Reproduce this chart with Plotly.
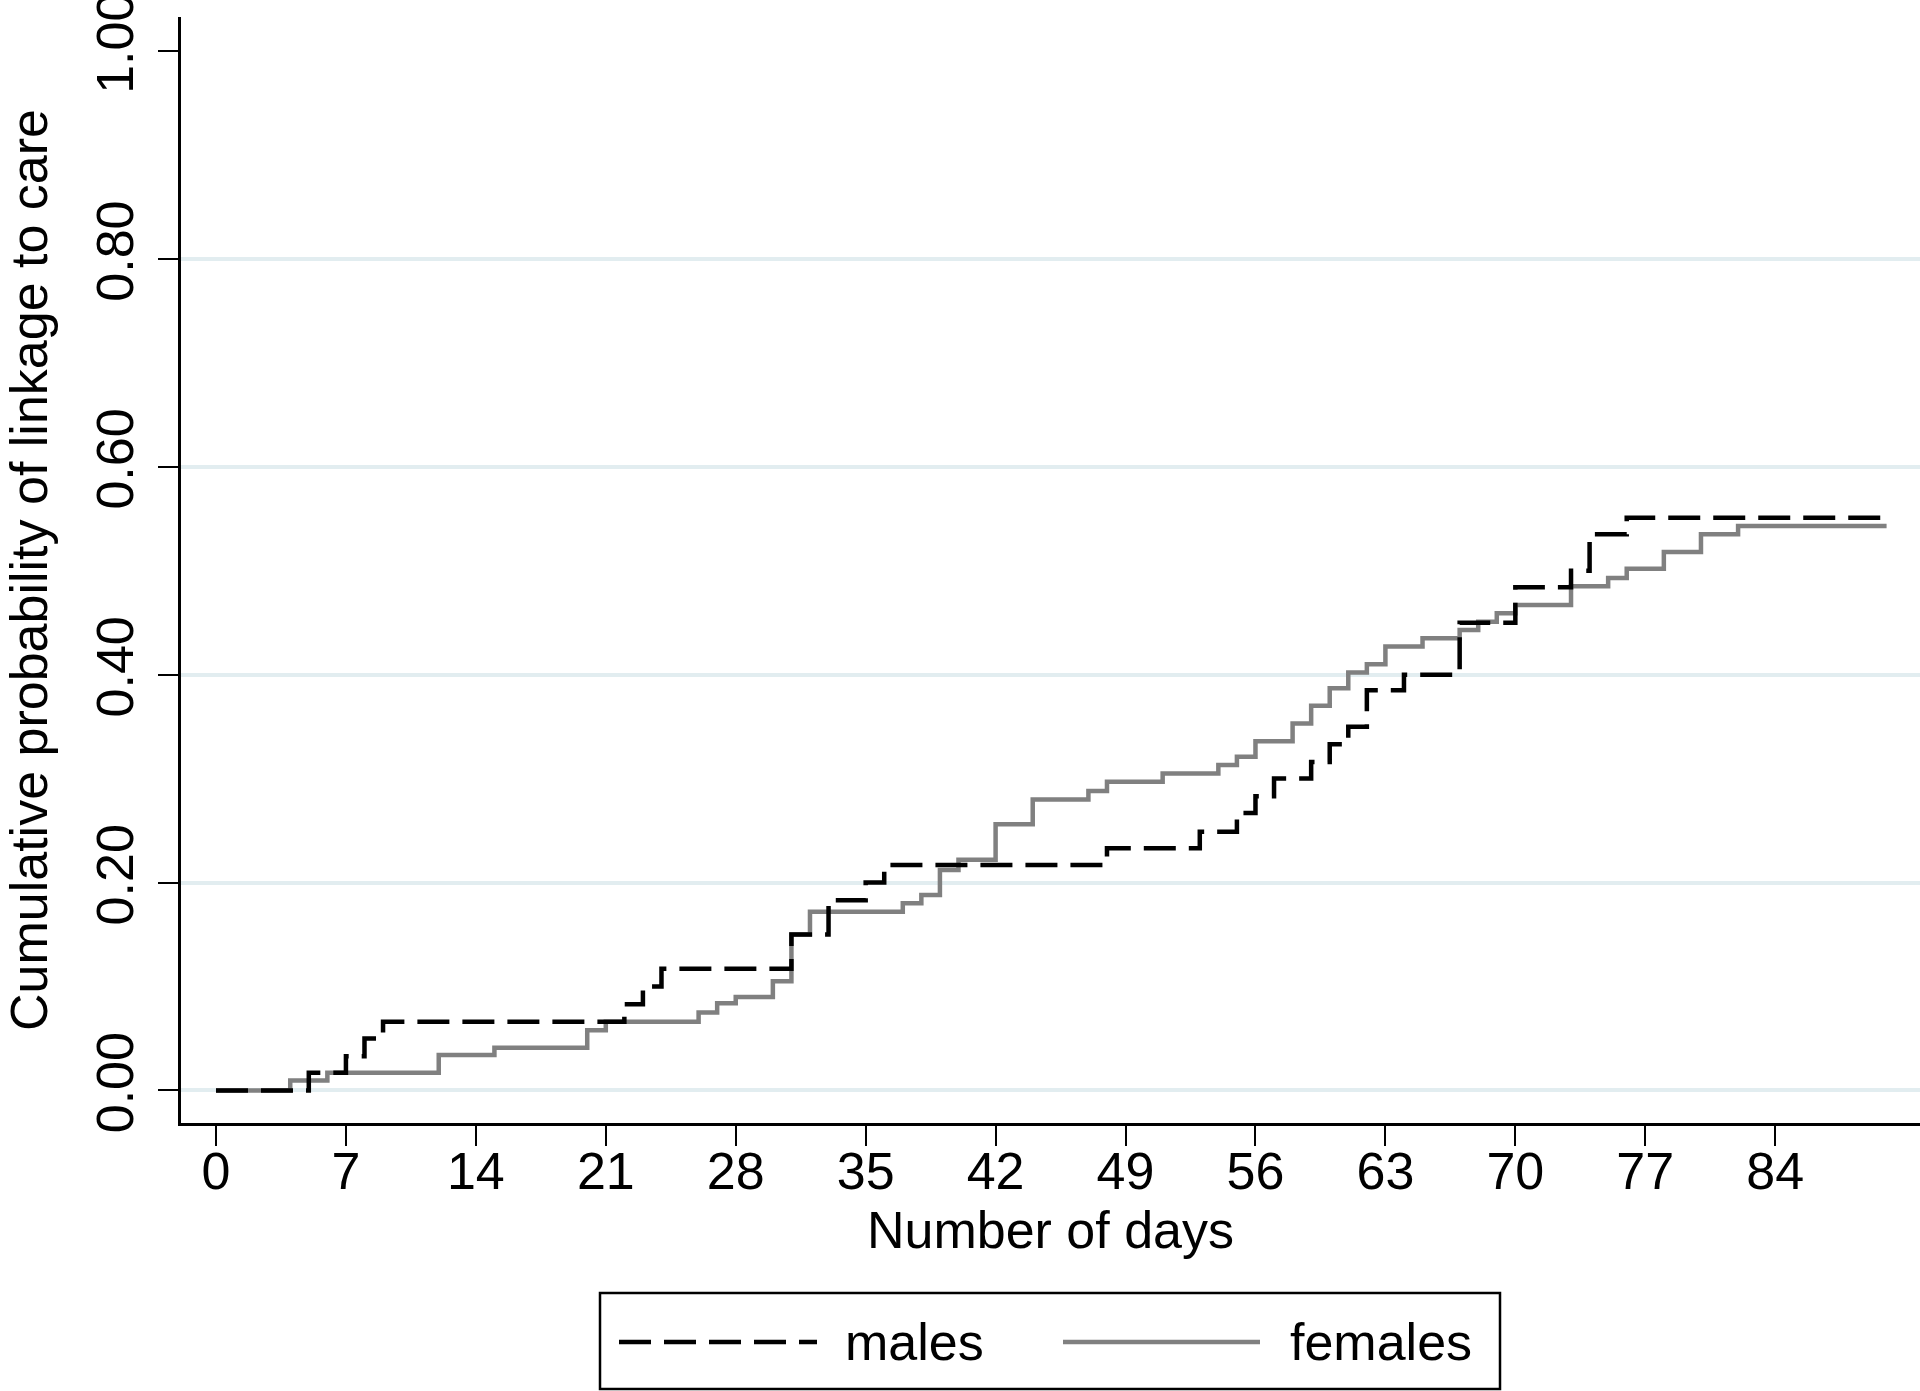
import plotly.graph_objects as go

# ---- data ----
male_days = [0, 5, 7, 8, 9, 22, 23, 24, 31, 33, 35, 36, 48, 53, 55, 56, 57, 59, 60, 61, 62, 64,
             67, 70, 73, 74, 76, 90]
male_prob = [0, 0.017, 0.033, 0.05, 0.066, 0.083, 0.1, 0.117, 0.15, 0.183, 0.2, 0.217, 0.233, 0.249,
             0.267, 0.283, 0.3, 0.316, 0.333, 0.35, 0.385, 0.4, 0.45, 0.484, 0.5, 0.535, 0.551, 0.551]

female_days = [0, 4, 6, 12, 15, 20, 21, 26, 27, 28, 30, 31, 32, 37, 38, 39, 40, 42, 44, 47, 48,
               51, 54, 55, 56, 58, 59, 60, 61, 62, 63, 65, 67, 68, 69, 70, 73, 75, 76, 78, 80, 82, 90]
female_prob = [0, 0.0096, 0.017, 0.034, 0.041, 0.058, 0.066, 0.075, 0.084, 0.09, 0.105, 0.15, 0.172,
               0.18, 0.188, 0.212, 0.222, 0.256, 0.28, 0.288, 0.297, 0.305, 0.313, 0.321, 0.336,
               0.353, 0.37, 0.387, 0.402, 0.41, 0.427, 0.435, 0.443, 0.451, 0.459, 0.467, 0.485,
               0.493, 0.502, 0.518, 0.535, 0.543, 0.543]

x_ticks = [0, 7, 14, 21, 28, 35, 42, 49, 56, 63, 70, 77, 84]
y_ticks = [0, 0.2, 0.4, 0.6, 0.8, 1.0]
y_tick_text = ["0.00", "0.20", "0.40", "0.60", "0.80", "1.00"]
grid_vals = [0, 0.2, 0.4, 0.6, 0.8]

series_names = ["males", "females"]

# ---- layout geometry ----
W, H = 1920, 1391
L, R, T, B = 181, 0, 17, 268
FONT = "Liberation Sans, Arial, sans-serif"
FS = 52
GRAY = "#808080"
MALE_DASH = "32px,13px"


def px_x(px):
    """screen x -> paper x"""
    return (px - L) / (W - L - R)


def px_y(py):
    """screen y -> paper y"""
    return (H - B - py) / (H - B - T)


fig = go.Figure()
fig.add_trace(go.Scatter(x=female_days, y=female_prob, mode="lines", line_shape="hv",
                         name=series_names[1], line=dict(color=GRAY, width=4.5), showlegend=False))
fig.add_trace(go.Scatter(x=male_days, y=male_prob, mode="lines", line_shape="hv",
                         name=series_names[0], line=dict(color="black", width=4.5, dash=MALE_DASH),
                         showlegend=False))

fig.update_layout(
    width=W, height=H,
    margin=dict(l=L, r=R, t=T, b=B, pad=0),
    paper_bgcolor="white", plot_bgcolor="white",
    font=dict(family=FONT, size=FS, color="black"),
    showlegend=False,
)

fig.update_xaxes(
    range=[-1.885, 91.8], tickmode="array", tickvals=x_ticks,
    ticks="outside", ticklen=20, tickwidth=2, tickcolor="black",
    ticklabelstandoff=-19,
    showline=True, linewidth=2.5, linecolor="black", mirror=False,
    showgrid=False, zeroline=False, automargin=False,
    tickfont=dict(family=FONT, size=FS, color="black"),
    title=dict(text="Number of days", font=dict(family=FONT, size=FS, color="black"), standoff=13),
)
fig.update_yaxes(
    range=[-0.0313, 1.0327], tickmode="array", tickvals=y_ticks, ticktext=y_tick_text,
    tickangle=-90, ticklabeloverflow="allow", ticklabelstandoff=4,
    ticks="outside", ticklen=20, tickwidth=2, tickcolor="black",
    showline=True, linewidth=2.5, linecolor="black",
    showgrid=False, zeroline=False, automargin=False,
    minor=dict(tickmode="array", tickvals=grid_vals, showgrid=True, gridcolor="#e2edf0",
               gridwidth=4, ticks=""),
    tickfont=dict(family=FONT, size=FS, color="black"),
    title=dict(text="Cumulative probability of linkage to care",
               font=dict(family=FONT, size=FS, color="black"), standoff=42),
)

# ---- legend drawn as a Stata-style box below the plot ----
box = dict(x0=600, x1=1500, y0=1293, y1=1389)
fig.add_shape(type="rect", xref="paper", yref="paper",
              x0=px_x(box["x0"]), x1=px_x(box["x1"]), y0=px_y(box["y1"]), y1=px_y(box["y0"]),
              line=dict(color="black", width=2.5), fillcolor="white", layer="above")
leg_y = 1342
fig.add_shape(type="line", xref="paper", yref="paper",
              x0=px_x(619), x1=px_x(817), y0=px_y(leg_y), y1=px_y(leg_y),
              line=dict(color="black", width=4.5, dash=MALE_DASH))
fig.add_shape(type="line", xref="paper", yref="paper",
              x0=px_x(1063), x1=px_x(1260), y0=px_y(leg_y), y1=px_y(leg_y),
              line=dict(color=GRAY, width=4.5))
fig.add_annotation(xref="paper", yref="paper", x=px_x(843), y=px_y(leg_y), text=series_names[0],
                   showarrow=False, xanchor="left", yanchor="middle",
                   font=dict(family=FONT, size=FS, color="black"))
fig.add_annotation(xref="paper", yref="paper", x=px_x(1288), y=px_y(leg_y), text=series_names[1],
                   showarrow=False, xanchor="left", yanchor="middle",
                   font=dict(family=FONT, size=FS, color="black"))

# remove the browser's default 8px body margin so the figure fills the window exactly
fig.write_html("out.html",
               config={"displayModeBar": False},
               post_script="document.body.style.margin='0';document.body.style.overflow='hidden';")
